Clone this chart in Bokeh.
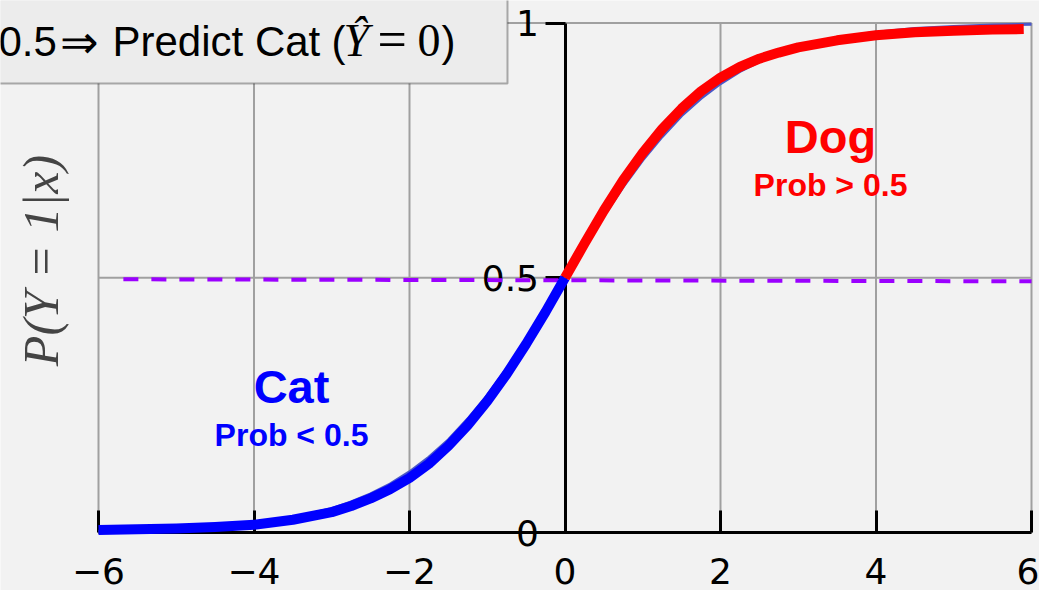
import numpy as np
from bokeh.plotting import figure
from bokeh.models import Range1d, LinearAxis, FixedTicker, Label, BoxAnnotation
from bokeh.embed import file_html
from bokeh.resources import INLINE

# ---- data -------------------------------------------------------------
x_ticks = [-6, -4, -2, 0, 2, 4, 6]
x_tick_labels = ["−6", "−4", "−2", "0", "2", "4", "6"]
y_ticks = [0, 0.5, 1]
y_tick_labels = ["0", "0.5", "1"]

# reference logistic curve (thin line)
sig_x = [-6, -5, -4.5, -4, -3.5, -3, -2.75, -2.5, -2.25, -2, -1.75, -1.5, -1.25, -1,
         -0.75, -0.5, -0.25, 0, 0.25, 0.5, 0.75, 1, 1.25, 1.5, 1.75, 2, 2.25, 2.5,
         2.75, 3, 3.5, 4, 4.5, 5, 5.5, 6]
sig_y = [0.0025, 0.0067, 0.011, 0.018, 0.029, 0.047, 0.060, 0.076, 0.095, 0.119, 0.148,
         0.182, 0.223, 0.269, 0.321, 0.378, 0.438, 0.5, 0.562, 0.622, 0.679, 0.731, 0.777,
         0.818, 0.852, 0.881, 0.905, 0.924, 0.940, 0.953, 0.971, 0.982, 0.989, 0.993,
         0.996, 0.9975]

# "Cat" branch (x < 0)
cat_x = [-6, -5, -4.5, -4, -3.5, -3, -2.75, -2.5, -2.25, -2, -1.75, -1.5, -1.25, -1,
         -0.75, -0.5, -0.25, 0]
cat_y = [0.005, 0.008, 0.011, 0.015, 0.025, 0.040, 0.052, 0.067, 0.085, 0.107, 0.135,
         0.170, 0.211, 0.258, 0.311, 0.370, 0.433, 0.5]

# "Dog" branch (x > 0)
dog_x = [0, 0.25, 0.5, 0.75, 1, 1.25, 1.5, 1.75, 2, 2.25, 2.5, 2.75, 3, 3.5, 4, 4.5,
         5, 5.5, 5.9]
dog_y = [0.5, 0.567, 0.632, 0.692, 0.745, 0.792, 0.832, 0.866, 0.893, 0.914, 0.930,
         0.942, 0.952, 0.966, 0.976, 0.982, 0.985, 0.987, 0.988]

# decision threshold
thr_x = [-5.68, 6.0]
thr_y = [0.497, 0.493]

# ---- canvas geometry ----------------------------------------------------
W, H = 1039, 590
PX0, PXU = 564.5, 77.75   # pixel column of x=0, pixels per x unit
PY0, PYU = 532.0, 509.5   # pixel row of y=0, pixels per y unit


def fx(px):
    return (px - PX0) / PXU


def fy(py):
    return (PY0 - py) / PYU


BG = "#f2f2f2"
p = figure(width=W, height=H, output_backend="svg", toolbar_location=None,
           x_range=Range1d(fx(0), fx(W)), y_range=Range1d(fy(H), fy(0)),
           x_axis_type=None, y_axis_type=None, min_border=0,
           background_fill_color=BG, border_fill_color=BG)
p.outline_line_color = None

# ---- grid ---------------------------------------------------------------
GRID = "#a0a0a0"
nx, ny = len(x_ticks), len(y_ticks)
p.segment(x0=x_ticks, y0=[y_ticks[0]] * nx, x1=x_ticks, y1=[y_ticks[-1]] * nx,
          line_color=GRID, line_width=2)
p.segment(x0=[x_ticks[0]] * ny, y0=y_ticks, x1=[x_ticks[-1]] * ny, y1=y_ticks,
          line_color=GRID, line_width=2)

# ---- axes crossing at the origin ----------------------------------------
xaxis = LinearAxis(fixed_location=0, bounds=(x_ticks[0], x_ticks[-1]),
                   ticker=FixedTicker(ticks=x_ticks),
                   major_label_overrides=dict(zip(x_ticks, x_tick_labels)))
yaxis = LinearAxis(fixed_location=0, bounds=(y_ticks[0], y_ticks[-1]),
                   ticker=FixedTicker(ticks=y_ticks),
                   major_label_overrides=dict(zip(y_ticks, y_tick_labels)))
for ax in (xaxis, yaxis):
    ax.axis_line_color = "black"
    ax.axis_line_width = 3
    ax.major_tick_line_color = "black"
    ax.major_tick_line_width = 3
    ax.minor_tick_in = 0
    ax.minor_tick_out = 0
    ax.major_label_text_font = "DejaVu Sans"
    ax.major_label_text_font_size = "36px"
    ax.major_label_text_color = "black"
xaxis.major_tick_in = 22
xaxis.major_tick_out = 0
xaxis.major_label_standoff = 25
yaxis.major_tick_in = 0
yaxis.major_tick_out = 20
yaxis.major_label_standoff = 6
p.add_layout(xaxis, "below")
p.add_layout(yaxis, "left")

# ---- curves -------------------------------------------------------------
thr = p.line(thr_x, thr_y, line_color="#9b00ff", line_width=4, line_dash="15 13")
thin = p.line(sig_x, sig_y, line_color="#4a58c8", line_width=3)
cat = p.line(cat_x, cat_y, line_color="#0000ff", line_width=10, line_cap="butt",
             line_join="round")
dog = p.line(dog_x, dog_y, line_color="#ff0000", line_width=10, line_cap="butt",
             line_join="round")
for r in (thr, thin, cat, dog):
    r.level = "overlay"

# ---- class annotations (positions are text centres) ------------------------
SANS = "Liberation Sans"


def label(px, py, text, color, size, font=SANS, style="bold", align="center",
          angle=0.0):
    p.add_layout(Label(x=fx(px), y=fy(py), text=text, text_color=color,
                       text_font=font, text_font_style=style,
                       text_font_size=size, text_align=align,
                       text_baseline="middle", angle=angle))


label(291, 386, "Cat", "#0000ff", "47px")
label(291, 434, "Prob < 0.5", "#0000ff", "32px")
label(830, 136, "Dog", "#ff0000", "47px")
label(830, 184, "Prob > 0.5", "#ff0000", "32px")

# ---- y axis title ---------------------------------------------------------
label(40, 260, "P(Y = 1|x)", "#444444", "50px", font="Liberation Serif",
      style="italic", angle=np.pi / 2)

# ---- decision-rule box ----------------------------------------------------
p.add_layout(BoxAnnotation(left=fx(-10), right=fx(507), top=fy(-10), bottom=fy(83),
                           fill_color="#ececec", fill_alpha=1.0,
                           line_color="black", line_width=2))
rule_parts = [
    ("0.5", -2, 41, SANS, "normal", "42px"),
    ("⇒", 59, 41, SANS, "normal", "46px"),
    ("Predict Cat", 112, 41, SANS, "normal", "42px"),
    ("(", 331, 41, SANS, "normal", "42px"),
    ("Ŷ", 343, 40, "Liberation Serif", "italic", "46px"),
    ("=", 377, 39, "Liberation Serif", "normal", "52px"),
    ("0", 417, 40, "Liberation Serif", "normal", "46px"),
    (")", 441, 41, SANS, "normal", "42px"),
]
for txt, px, py, font, style, size in rule_parts:
    label(px, py, txt, "black", size, font=font, style=style, align="left")

open("out.html", "w").write(file_html(p, INLINE))
